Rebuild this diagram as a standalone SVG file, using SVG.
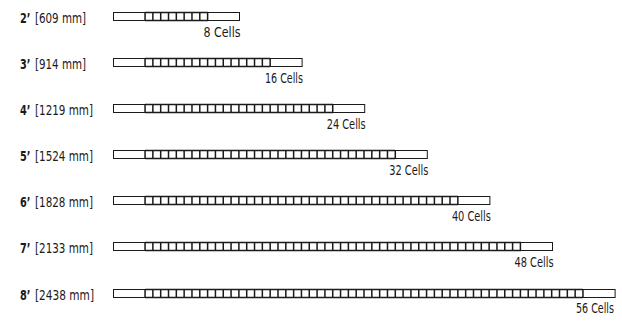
<svg xmlns="http://www.w3.org/2000/svg" width="622" height="322" viewBox="0 0 622 322">
<style>
.lbl{font-family:"DejaVu Sans Condensed","DejaVu Sans",sans-serif;font-stretch:condensed;font-size:14.5px;fill:#1a1a1a}
.b{font-weight:bold}
.cnt{font-family:"DejaVu Sans Condensed","DejaVu Sans",sans-serif;font-stretch:condensed;font-size:13.5px;fill:#1a1a1a;text-anchor:end}
.bar{fill:#fff;stroke:#1a1a1a;stroke-width:1}
.cells{fill:none;stroke:#1a1a1a;stroke-width:8;stroke-dasharray:1.5 6.32}
.cl{stroke:#1a1a1a;stroke-width:1.3;fill:none}
</style>
<rect width="622" height="322" fill="#fff"/>
<g id="row-2ft">
<text class="lbl b" x="20" y="22.5" textLength="10.5" lengthAdjust="spacingAndGlyphs">2’</text>
<text class="lbl" x="35" y="22.5" textLength="51" lengthAdjust="spacingAndGlyphs">[609 mm]</text>
<rect class="bar" x="113.5" y="12.5" width="126" height="8"/>
<path class="cells" d="M144.3 16.5H209"/>
<path class="cl" d="M145 12.5H208M145 20.5H208"/>
<text class="cnt" x="240.5" y="37" textLength="37" lengthAdjust="spacingAndGlyphs">8 Cells</text>
</g>
<g id="row-3ft">
<text class="lbl b" x="20" y="68.5" textLength="10.5" lengthAdjust="spacingAndGlyphs">3’</text>
<text class="lbl" x="35" y="68.5" textLength="51" lengthAdjust="spacingAndGlyphs">[914 mm]</text>
<rect class="bar" x="113.5" y="58.5" width="188.6" height="8"/>
<path class="cells" d="M144.3 62.5H271.6"/>
<path class="cl" d="M145 58.5H270M145 66.5H270"/>
<text class="cnt" x="303" y="83" textLength="38" lengthAdjust="spacingAndGlyphs">16 Cells</text>
</g>
<g id="row-4ft">
<text class="lbl b" x="20" y="114.5" textLength="10.5" lengthAdjust="spacingAndGlyphs">4’</text>
<text class="lbl" x="35" y="114.5" textLength="58" lengthAdjust="spacingAndGlyphs">[1219 mm]</text>
<rect class="bar" x="113.5" y="104.5" width="251.2" height="8"/>
<path class="cells" d="M144.3 108.5H334.2"/>
<path class="cl" d="M145 104.5H333M145 112.5H333"/>
<text class="cnt" x="365.7" y="129" textLength="39" lengthAdjust="spacingAndGlyphs">24 Cells</text>
</g>
<g id="row-5ft">
<text class="lbl b" x="20" y="160.5" textLength="10.5" lengthAdjust="spacingAndGlyphs">5’</text>
<text class="lbl" x="35" y="160.5" textLength="58" lengthAdjust="spacingAndGlyphs">[1524 mm]</text>
<rect class="bar" x="113.5" y="150.5" width="313.8" height="8"/>
<path class="cells" d="M144.3 154.5H396.8"/>
<path class="cl" d="M145 150.5H395M145 158.5H395"/>
<text class="cnt" x="428.3" y="175" textLength="39" lengthAdjust="spacingAndGlyphs">32 Cells</text>
</g>
<g id="row-6ft">
<text class="lbl b" x="20" y="206.5" textLength="10.5" lengthAdjust="spacingAndGlyphs">6’</text>
<text class="lbl" x="35" y="206.5" textLength="58" lengthAdjust="spacingAndGlyphs">[1828 mm]</text>
<rect class="bar" x="113.5" y="196.5" width="376.4" height="8"/>
<path class="cells" d="M144.3 200.5H459.4"/>
<path class="cl" d="M145 196.5H458M145 204.5H458"/>
<text class="cnt" x="490.9" y="221" textLength="39" lengthAdjust="spacingAndGlyphs">40 Cells</text>
</g>
<g id="row-7ft">
<text class="lbl b" x="20" y="252.5" textLength="10.5" lengthAdjust="spacingAndGlyphs">7’</text>
<text class="lbl" x="35" y="252.5" textLength="58" lengthAdjust="spacingAndGlyphs">[2133 mm]</text>
<rect class="bar" x="113.5" y="242.5" width="439" height="8"/>
<path class="cells" d="M144.3 246.5H522"/>
<path class="cl" d="M145 242.5H521M145 250.5H521"/>
<text class="cnt" x="553.5" y="267" textLength="39" lengthAdjust="spacingAndGlyphs">48 Cells</text>
</g>
<g id="row-8ft">
<text class="lbl b" x="20" y="299.5" textLength="10.5" lengthAdjust="spacingAndGlyphs">8’</text>
<text class="lbl" x="35" y="299.5" textLength="59" lengthAdjust="spacingAndGlyphs">[2438 mm]</text>
<rect class="bar" x="113.5" y="289.5" width="501.6" height="8"/>
<path class="cells" d="M144.3 293.5H584.6"/>
<path class="cl" d="M145 289.5H583M145 297.5H583"/>
<text class="cnt" x="614" y="312.5" textLength="38" lengthAdjust="spacingAndGlyphs">56 Cells</text>
</g>
</svg>
